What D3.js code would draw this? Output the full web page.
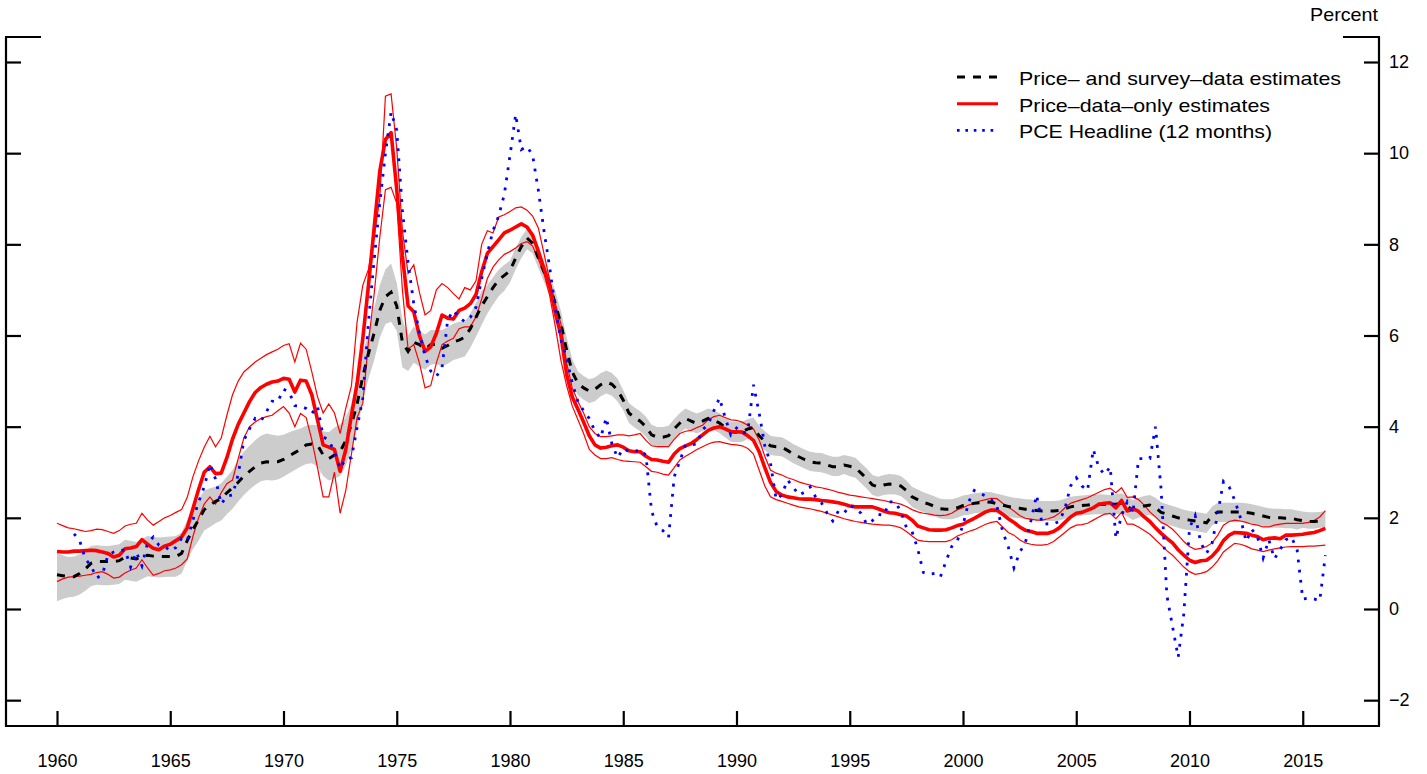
<!DOCTYPE html>
<html>
<head>
<meta charset="utf-8">
<script src="https://cdn.jsdelivr.net/npm/d3@7"></script>
<style>
  body { margin: 0; background: #fff; }
  svg { display: block; font-family: "Liberation Sans", Arial, sans-serif; }
</style>
</head>
<body>
<svg id="chart" width="1427" height="774"></svg>
<script>
// quarterly dates, 1960Q1 .. 2016Q1
let dates = d3.range(0, 225).map(function(i){ return 1960 + i / 4; });

let yearTicks = [1960, 1965, 1970, 1975, 1980, 1985, 1990, 1995, 2000, 2005, 2010, 2015];
let pctTicks = [-2, 0, 2, 4, 6, 8, 10, 12];

// price- and survey-data estimates (median and band)
let surveyMid = [
  0.75,0.73,0.71,0.71, 0.78,0.88,1.00,1.04, 1.04,1.04,1.04,1.06, 1.14,1.12,1.10,1.16,
  1.18,1.16,1.15,1.15, 1.15,1.15,1.22,1.50, 1.75,1.95,2.18,2.28, 2.36,2.42,2.55,2.66,
  2.78,2.92,3.02,3.12, 3.20,3.23,3.22,3.23, 3.28,3.36,3.43,3.50, 3.60,3.62,3.60,3.38,
  3.30,3.38,3.45,3.70, 4.05,4.50,5.10,5.60, 6.05,6.55,6.85,6.95, 6.65,5.85,5.65,5.85,
  5.80,5.70,5.80,5.80, 5.72,5.78,5.86,5.90, 5.96,6.15,6.40,6.65, 6.85,7.05,7.22,7.32,
  7.42,7.70,7.95,8.14, 8.02,7.70,7.40,7.10, 6.70,6.25,5.68,5.20, 4.95,4.85,4.78,4.82,
  4.92,4.98,4.93,4.80, 4.58,4.30,4.20,4.12, 4.00,3.82,3.77,3.77, 3.80,3.95,4.08,4.18,
  4.12,4.07,4.12,4.18, 4.14,4.08,3.98,3.89, 3.88,3.89,3.95,3.98, 3.80,3.68,3.58,3.56,
  3.55,3.48,3.40,3.34, 3.28,3.23,3.21,3.20, 3.16,3.12,3.12,3.16, 3.13,3.10,2.98,2.86,
  2.72,2.68,2.72,2.74, 2.73,2.70,2.60,2.46, 2.40,2.34,2.30,2.25, 2.20,2.19,2.19,2.22,
  2.27,2.29,2.32,2.33, 2.35,2.34,2.31,2.28, 2.25,2.22,2.21,2.19, 2.18,2.16,2.15,2.15,
  2.15,2.16,2.20,2.24, 2.26,2.27,2.28,2.30, 2.30,2.29,2.28,2.30, 2.32,2.25,2.17,2.22,
  2.26,2.28,2.22,2.12, 2.08,2.04,2.00,1.97, 1.95,1.93,1.91,1.89, 2.05,2.13,2.13,2.13,
  2.13,2.13,2.12,2.10, 2.07,2.04,2.01,2.00, 2.00,1.99,1.99,1.96, 1.94,1.92,1.92,1.93,
  1.93
];
let surveyHi = [
  1.23,1.18,1.14,1.15, 1.20,1.28,1.38,1.40, 1.39,1.38,1.40,1.42, 1.52,1.50,1.47,1.54,
  1.60,1.58,1.57,1.58, 1.59,1.60,1.68,1.95, 2.19,2.40,2.60,2.65, 2.68,2.76,2.90,3.05,
  3.28,3.45,3.58,3.70, 3.80,3.85,3.82,3.80, 3.82,3.88,3.92,3.96, 4.02,4.04,4.03,3.90,
  3.88,3.98,4.05,4.20, 4.50,5.00,5.62,6.05, 6.60,7.10,7.45,7.58, 7.15,6.35,6.00,6.20,
  6.10,6.02,6.12,6.12, 6.12,6.18,6.26,6.30, 6.30,6.48,6.72,6.98, 7.10,7.28,7.44,7.55,
  7.64,7.92,8.16,8.34, 8.24,7.92,7.62,7.32, 6.98,6.53,5.96,5.48, 5.21,5.11,5.04,5.08,
  5.17,5.23,5.18,5.05, 4.80,4.52,4.42,4.34, 4.22,4.04,3.99,3.99, 4.02,4.17,4.30,4.40,
  4.34,4.29,4.34,4.40, 4.36,4.30,4.20,4.11, 4.10,4.11,4.17,4.20, 4.02,3.90,3.80,3.78,
  3.77,3.70,3.62,3.56, 3.50,3.45,3.43,3.42, 3.38,3.34,3.34,3.38, 3.35,3.32,3.20,3.08,
  2.94,2.90,2.94,2.96, 2.95,2.92,2.82,2.68, 2.62,2.56,2.52,2.47, 2.42,2.41,2.41,2.44,
  2.49,2.51,2.54,2.55, 2.57,2.56,2.53,2.50, 2.47,2.44,2.43,2.41, 2.40,2.38,2.37,2.37,
  2.37,2.38,2.42,2.46, 2.48,2.49,2.50,2.52, 2.52,2.51,2.50,2.52, 2.54,2.47,2.39,2.44,
  2.48,2.50,2.44,2.34, 2.30,2.26,2.22,2.18, 2.15,2.13,2.11,2.09, 2.25,2.33,2.33,2.33,
  2.33,2.33,2.32,2.30, 2.27,2.24,2.21,2.20, 2.20,2.19,2.19,2.16, 2.14,2.12,2.12,2.13,
  2.15
];
let surveyLo = [
  0.17,0.22,0.26,0.27, 0.32,0.40,0.50,0.53, 0.52,0.52,0.53,0.55, 0.64,0.62,0.60,0.66,
  0.72,0.70,0.69,0.70, 0.71,0.71,0.78,1.06, 1.31,1.50,1.72,1.80, 1.88,1.94,2.08,2.20,
  2.36,2.50,2.62,2.72, 2.80,2.83,2.82,2.84, 2.90,2.98,3.05,3.12, 3.18,3.20,3.12,2.92,
  2.82,2.86,2.92,3.15, 3.50,3.95,4.55,5.05, 5.45,5.95,6.25,6.30, 6.10,5.30,5.22,5.40,
  5.32,5.25,5.36,5.38, 5.32,5.38,5.46,5.50, 5.54,5.73,5.98,6.23, 6.48,6.68,6.86,6.98,
  7.16,7.45,7.70,7.89, 7.80,7.48,7.18,6.88, 6.42,5.97,5.40,4.92, 4.69,4.59,4.52,4.56,
  4.67,4.73,4.68,4.55, 4.36,4.08,3.98,3.90, 3.78,3.60,3.55,3.55, 3.58,3.73,3.86,3.96,
  3.90,3.85,3.90,3.96, 3.92,3.86,3.76,3.67, 3.66,3.67,3.73,3.76, 3.60,3.48,3.38,3.36,
  3.35,3.28,3.20,3.14, 3.08,3.03,3.01,3.00, 2.96,2.92,2.92,2.96, 2.91,2.88,2.76,2.64,
  2.50,2.46,2.50,2.52, 2.51,2.48,2.38,2.24, 2.18,2.12,2.08,2.03, 1.98,1.97,1.97,2.00,
  2.05,2.07,2.10,2.11, 2.13,2.12,2.09,2.06, 2.03,2.00,1.99,1.97, 1.96,1.94,1.93,1.93,
  1.93,1.94,1.98,2.02, 2.04,2.05,2.06,2.08, 2.08,2.07,2.06,2.08, 2.10,2.03,1.95,2.00,
  2.04,2.06,2.00,1.90, 1.86,1.82,1.78,1.75, 1.73,1.71,1.69,1.67, 1.83,1.91,1.91,1.91,
  1.91,1.91,1.90,1.88, 1.85,1.82,1.79,1.78, 1.78,1.77,1.77,1.74, 1.78,1.76,1.76,1.78,
  1.79
];

// price-data-only estimates (median and bounds)
let priceMid = [
  1.26,1.25,1.25,1.27, 1.27,1.28,1.29,1.28, 1.25,1.22,1.14,1.18, 1.32,1.34,1.37,1.52,
  1.42,1.33,1.30,1.38, 1.42,1.50,1.58,1.78, 2.20,2.62,3.00,3.12, 2.97,2.98,3.32,3.73,
  4.05,4.30,4.55,4.75, 4.86,4.93,4.98,5.00, 5.06,5.04,4.76,5.02, 5.00,4.70,4.15,3.60,
  3.55,3.50,3.02,3.50, 4.25,4.95,5.93,7.10, 8.35,9.60,10.30,10.45, 9.20,7.75,6.65,6.52,
  6.00,5.65,5.75,6.05, 6.45,6.38,6.36,6.55, 6.60,6.70,6.90,7.40, 7.80,7.95,8.10,8.25,
  8.31,8.38,8.45,8.38, 8.20,7.85,7.47,7.10, 6.50,6.00,5.15,4.65, 4.38,4.10,3.80,3.60,
  3.53,3.55,3.58,3.60, 3.55,3.47,3.45,3.45, 3.35,3.28,3.27,3.24, 3.22,3.40,3.52,3.58,
  3.63,3.72,3.82,3.92, 3.97,4.00,3.95,3.89, 3.89,3.88,3.80,3.70, 3.45,3.10,2.78,2.58,
  2.50,2.46,2.44,2.42, 2.41,2.41,2.40,2.38, 2.37,2.35,2.33,2.30, 2.26,2.24,2.24,2.24,
  2.24,2.20,2.15,2.11, 2.10,2.07,2.04,1.95, 1.82,1.78,1.74,1.73, 1.73,1.74,1.78,1.83,
  1.86,1.93,1.99,2.06, 2.13,2.17,2.17,2.08, 1.98,1.90,1.80,1.73, 1.70,1.66,1.66,1.66,
  1.70,1.78,1.90,2.02, 2.10,2.12,2.17,2.22, 2.30,2.32,2.33,2.22, 2.38,2.15,2.20,2.14,
  2.02,1.92,1.78,1.66, 1.55,1.45,1.30,1.18, 1.07,1.02,1.06,1.07, 1.16,1.30,1.50,1.62,
  1.68,1.67,1.66,1.62, 1.59,1.52,1.55,1.56, 1.54,1.62,1.62,1.63, 1.64,1.66,1.68,1.72,
  1.77
];
let priceHi = [
  1.88,1.83,1.78,1.76, 1.73,1.70,1.72,1.75, 1.74,1.70,1.66,1.72, 1.82,1.86,1.88,2.10,
  1.95,1.84,1.92,2.00, 2.05,2.12,2.18,2.45, 2.90,3.25,3.55,3.79, 3.56,3.75,4.25,4.70,
  5.00,5.20,5.31,5.42, 5.50,5.58,5.64,5.70, 5.78,5.82,5.42,5.83, 5.70,5.20,4.66,4.30,
  4.50,4.30,3.85,4.40, 4.90,6.30,7.10,7.45, 8.15,9.00,11.25,11.30, 10.10,8.30,7.36,7.55,
  6.95,6.45,6.55,7.00, 7.14,7.05,6.92,6.80, 7.05,7.00,7.20,8.00, 8.30,8.25,8.60,8.65,
  8.72,8.80,8.82,8.75, 8.62,8.36,7.80,7.22, 6.70,6.25,5.40,4.85, 4.55,4.30,4.00,3.85,
  3.78,3.78,3.80,3.82, 3.82,3.80,3.82,3.85, 3.70,3.58,3.56,3.56, 3.56,3.72,3.85,3.90,
  3.92,3.98,4.03,4.15, 4.22,4.25,4.20,4.15, 4.14,4.10,4.03,3.95, 3.71,3.35,3.05,2.98,
  2.94,2.88,2.84,2.79, 2.75,2.72,2.68,2.66, 2.63,2.60,2.56,2.53, 2.50,2.48,2.46,2.44,
  2.42,2.40,2.38,2.35, 2.33,2.30,2.25,2.18, 2.13,2.10,2.08,2.06, 2.05,2.06,2.10,2.18,
  2.22,2.28,2.32,2.37, 2.40,2.43,2.42,2.32, 2.24,2.15,2.05,1.99, 1.97,1.95,1.95,1.98,
  2.02,2.10,2.22,2.32, 2.36,2.40,2.44,2.50, 2.56,2.62,2.65,2.55, 2.66,2.45,2.46,2.40,
  2.28,2.13,2.02,1.90, 1.84,1.75,1.62,1.48, 1.37,1.31,1.33,1.37, 1.45,1.62,1.84,1.92,
  1.95,1.93,1.90,1.86, 1.84,1.80,1.80,1.84, 1.86,1.88,1.88,1.88, 1.88,1.90,1.94,2.02,
  2.16
];
let priceLo = [
  0.60,0.66,0.70,0.71, 0.72,0.74,0.76,0.80, 0.82,0.76,0.68,0.70, 0.79,0.85,0.90,1.08,
  0.90,0.74,0.78,0.84, 0.86,0.90,0.97,1.10, 1.59,2.00,2.30,2.46, 2.30,2.55,2.75,2.83,
  3.30,3.75,4.00,4.10, 4.18,4.22,4.25,4.35, 4.44,4.30,4.00,4.29, 4.20,3.71,3.10,2.46,
  2.46,3.00,2.10,2.60, 3.40,4.20,4.51,5.85, 6.90,8.15,9.20,9.25, 8.90,7.00,5.70,5.80,
  5.40,4.85,4.90,5.40, 5.80,5.88,5.94,6.15, 6.19,6.19,6.41,6.80, 7.25,7.50,7.66,7.78,
  7.84,7.92,8.02,8.06, 7.96,7.68,7.36,6.88, 6.20,5.45,4.90,4.45, 4.15,3.85,3.50,3.38,
  3.30,3.30,3.32,3.28, 3.25,3.24,3.23,3.22, 3.12,3.02,3.00,2.96, 2.94,3.10,3.27,3.35,
  3.42,3.50,3.56,3.62, 3.66,3.67,3.64,3.61, 3.60,3.58,3.52,3.40, 3.05,2.70,2.46,2.40,
  2.36,2.32,2.28,2.24, 2.22,2.20,2.17,2.14, 2.10,2.06,2.02,1.98, 1.95,1.92,1.90,1.88,
  1.86,1.85,1.84,1.84, 1.82,1.78,1.70,1.60, 1.51,1.49,1.48,1.48, 1.48,1.48,1.52,1.60,
  1.65,1.70,1.74,1.80, 1.86,1.90,1.92,1.80, 1.68,1.62,1.52,1.45, 1.42,1.40,1.40,1.42,
  1.48,1.58,1.68,1.78, 1.84,1.85,1.88,1.95, 2.02,2.08,2.10,1.98, 2.12,1.86,1.86,1.80,
  1.72,1.64,1.52,1.40, 1.28,1.18,1.05,0.92, 0.82,0.76,0.78,0.82, 0.92,1.06,1.25,1.35,
  1.44,1.42,1.38,1.32, 1.29,1.26,1.29,1.32, 1.34,1.36,1.37,1.37, 1.37,1.38,1.38,1.39,
  1.40
];

// PCE headline inflation, 12-month change
let pceHeadline = [
  null,null,null,1.65, 1.50,1.10,0.95,0.68, 0.75,1.18,1.25,1.28, 1.30,0.92,1.25,0.95,
  1.45,1.58,1.40,1.38, 1.27,1.35,1.55,1.50, 1.95,2.35,2.68,3.18, 2.85,2.30,2.48,2.50,
  2.95,3.70,3.95,4.18, 4.12,4.33,4.56,4.55, 4.82,4.76,4.46,4.45, 4.40,4.29,4.45,3.78,
  3.70,3.45,3.08,3.30, 3.32,3.98,4.62,6.30, 7.65,8.90,10.00,10.90, 10.50,8.75,7.60,6.70,
  6.05,5.55,5.22,5.10, 5.30,6.35,6.55,6.40, 6.30,6.40,6.62,7.25, 7.80,8.30,8.62,9.10,
  9.95,10.85,10.08,10.15, 9.95,9.19,8.30,7.50, 6.60,5.90,5.50,4.95, 4.55,4.35,4.18,3.90,
  3.75,4.20,3.62,3.32, 3.52,3.46,3.45,3.50, 3.37,2.15,1.80,1.72, 1.57,2.90,3.25,3.60,
  3.60,3.62,3.93,4.05, 4.35,4.63,4.20,3.82, 3.97,3.85,3.90,4.92, 4.30,3.58,3.20,2.40,
  2.50,2.83,2.68,2.50, 2.56,2.68,2.45,2.33, 2.10,1.93,2.15,2.10, 2.28,2.21,2.10,1.86,
  1.94,2.08,2.05,2.35, 2.35,2.15,1.79,1.70, 1.32,0.80,0.76,0.78, 0.70,1.05,1.37,1.50,
  1.84,2.35,2.60,2.54, 2.48,2.40,2.25,1.70, 1.36,0.90,1.24,1.45, 1.94,2.50,1.85,1.87,
  1.87,1.92,2.20,2.70, 2.88,2.70,2.60,3.50, 3.10,2.95,3.12,1.55, 2.05,2.35,2.10,3.30,
  3.30,3.30,4.00,2.60, 0.30,-0.38,-1.06,-0.10, 1.78,2.05,1.45,1.22, 1.45,2.10,2.80,2.68,
  2.38,2.00,1.48,1.75, 1.58,1.12,1.52,1.10, 1.30,1.52,1.58,1.30, 0.22,0.24,0.22,0.18,
  1.18
];

let legendLabels = [
  "Price\u2013 and survey\u2013data estimates",
  "Price\u2013data\u2013only estimates",
  "PCE Headline (12 months)"
];

// frame
let frame = {left: 6, right: 1379, top: 37, bottom: 726};
let x = d3.scaleLinear().domain([1960, 2015]).range([57, 1302.75]);
let y = d3.scaleLinear().domain([0, 12]).range([609, 62]);

let svg = d3.select("#chart");

function series(vals){
    return dates.map(function(d, i){ return {t: d, v: vals[i]}; });
}

// grey band
let band = dates.map(function(d, i){ return {t: d, lo: surveyLo[i], hi: surveyHi[i]}; });
svg.append("path")
    .datum(band)
    .attr("fill", "#cccccc")
    .attr("d", d3.area()
        .x(function(d){ return x(d.t); })
        .y0(function(d){ return y(d.lo); })
        .y1(function(d){ return y(d.hi); }));

let line = d3.line()
    .defined(function(d){ return d.v != null; })
    .x(function(d){ return x(d.t); })
    .y(function(d){ return y(d.v); });

// thin red bounds
[priceHi, priceLo].forEach(function(arr){
    svg.append("path")
        .datum(series(arr))
        .attr("fill", "none")
        .attr("stroke", "#ff0000")
        .attr("stroke-width", 1.2)
        .attr("d", line);
});

// black dashed median
svg.append("path")
    .datum(series(surveyMid))
    .attr("fill", "none")
    .attr("stroke", "#000")
    .attr("stroke-width", 3)
    .attr("stroke-dasharray", "8,8")
    .attr("d", line);

// red thick median
svg.append("path")
    .datum(series(priceMid))
    .attr("fill", "none")
    .attr("stroke", "#ff0000")
    .attr("stroke-width", 3.6)
    .attr("stroke-linejoin", "round")
    .attr("d", line);

// blue dotted PCE
svg.append("path")
    .datum(series(pceHeadline))
    .attr("fill", "none")
    .attr("stroke", "#0000ff")
    .attr("stroke-width", 2.8)
    .attr("stroke-dasharray", "2.8,7.4")
    .attr("d", line);

// axes
let bottomAxis = svg.append("g")
    .attr("transform", "translate(0," + frame.bottom + ")")
    .call(d3.axisBottom(x).tickValues(yearTicks).tickFormat(d3.format("d"))
        .tickSizeInner(-15).tickSizeOuter(0).tickPadding(28));

let rightAxis = svg.append("g")
    .attr("transform", "translate(" + frame.right + ",0)")
    .call(d3.axisRight(y).tickValues(pctTicks)
        .tickSizeInner(-15).tickSizeOuter(0).tickPadding(10));

let leftAxis = svg.append("g")
    .attr("transform", "translate(" + frame.left + ",0)")
    .call(d3.axisLeft(y).tickValues(pctTicks).tickFormat("")
        .tickSizeInner(-15).tickSizeOuter(0));

[bottomAxis, rightAxis, leftAxis].forEach(function(g){
    g.select(".domain").remove();
    g.selectAll(".tick line").attr("stroke", "#000").attr("stroke-width", 2.2);
    g.selectAll(".tick text").attr("font-size", 18).attr("fill", "#000")
        .attr("font-family", "Liberation Sans, Arial, sans-serif");
});

// frame lines
let frameLines = [
    [frame.left, frame.top, frame.left, frame.bottom],
    [frame.left - 1, frame.bottom, frame.right + 1, frame.bottom],
    [frame.right, frame.top, frame.right, frame.bottom],
    [frame.left - 1, frame.top, frame.left + 35, frame.top],
    [frame.right - 36, frame.top, frame.right + 1, frame.top]
];
svg.selectAll(".frame")
    .data(frameLines)
    .enter()
    .append("line")
    .attr("x1", function(d){ return d[0]; })
    .attr("y1", function(d){ return d[1]; })
    .attr("x2", function(d){ return d[2]; })
    .attr("y2", function(d){ return d[3]; })
    .attr("stroke", "#000")
    .attr("stroke-width", 2.2);

svg.append("text")
    .text("Percent")
    .attr("x", 1378)
    .attr("y", 21)
    .attr("text-anchor", "end")
    .attr("font-size", 19)
    .attr("textLength", 68)
    .attr("lengthAdjust", "spacingAndGlyphs")
    .attr("fill", "#000");

// legend
let legendStyles = [
    {stroke: "#000", width: 3, dash: "8,8", len: 322},
    {stroke: "#ff0000", width: 3, dash: null, len: 251},
    {stroke: "#0000ff", width: 2.6, dash: "2.6,5.8", len: 253}
];
let legend = svg.append("g");
legendLabels.forEach(function(lbl, i){
    let by = 85 + i * 26.7;
    legend.append("line")
        .attr("x1", 957).attr("x2", 998)
        .attr("y1", by - 8).attr("y2", by - 8)
        .attr("stroke", legendStyles[i].stroke)
        .attr("stroke-width", legendStyles[i].width)
        .attr("stroke-dasharray", legendStyles[i].dash);
    legend.append("text")
        .text(lbl)
        .attr("x", 1019)
        .attr("y", by)
        .attr("font-size", 19)
        .attr("textLength", legendStyles[i].len)
        .attr("lengthAdjust", "spacingAndGlyphs")
        .attr("fill", "#000");
});
</script>
</body>
</html>
